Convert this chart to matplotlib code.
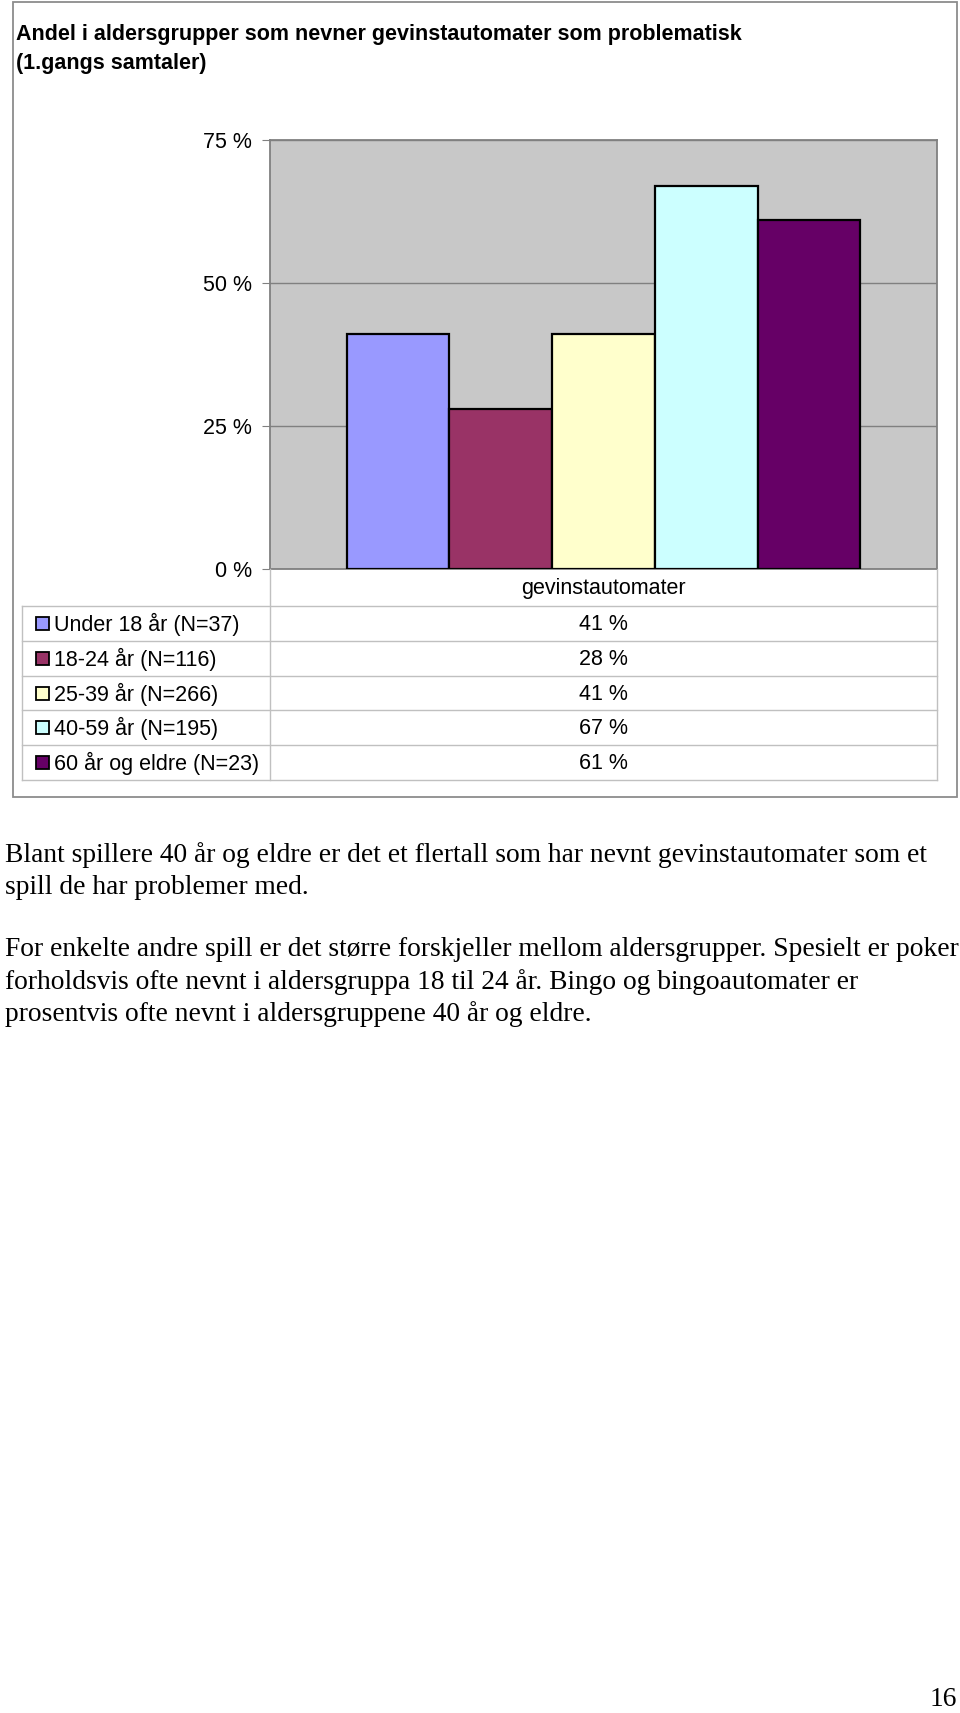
import matplotlib
matplotlib.use('Agg')
import matplotlib.pyplot as plt
from matplotlib.patches import Rectangle
from matplotlib.lines import Line2D

groups = ['Under 18 år (N=37)', '18-24 år (N=116)', '25-39 år (N=266)',
          '40-59 år (N=195)', '60 år og eldre (N=23)']
values = [41, 28, 41, 67, 61]
colors = ['#9999ff', '#993366', '#ffffcc', '#ccffff', '#660066']
category = 'gevinstautomater'
yticks = [0, 25, 50, 75]

title = ('Andel i aldersgrupper som nevner gevinstautomater som problematisk\n'
         '(1.gangs samtaler)')
paragraphs = [
    ['Blant spillere 40 år og eldre er det et flertall som har nevnt gevinstautomater som et',
     'spill de har problemer med.'],
    ['For enkelte andre spill er det større forskjeller mellom aldersgrupper. Spesielt er poker',
     'forholdsvis ofte nevnt i aldersgruppa 18 til 24 år. Bingo og bingoautomater er',
     'prosentvis ofte nevnt i aldersgruppene 40 år og eldre.'],
]

W, H = 960, 1713
fig = plt.figure(figsize=(W / 100, H / 100), dpi=100)


def fx(px):
    return px / W


def fy(py):
    return 1 - py / H


# outer chart frame
fig.patches.append(Rectangle((fx(13), fy(797)), fx(944), (797 - 2) / H,
                             transform=fig.transFigure, fill=False,
                             edgecolor='#8c8c8c', lw=1.3))

fig.text(fx(16), fy(49), title, ha='left', va='center', fontsize=15.5,
         fontweight='bold', family='Liberation Sans', linespacing=1.52)

# plot area
left, right, top, bottom = 270, 937, 140, 569
ax = fig.add_axes([fx(left), fy(bottom), fx(right - left), (bottom - top) / H])
ax.set_facecolor('#c8c8c8')
n = len(values)
w = 0.77 / n
xs = [0.5 + (i - (n - 1) / 2) * w for i in range(n)]
ax.bar(xs, values, width=w, color=colors, edgecolor='black', lw=1.6, zorder=3)
ax.set_xlim(0, 1)
ax.set_ylim(0, 75)
ax.set_yticks(yticks)
ax.set_yticklabels([f'{t} %' for t in yticks], family='Liberation Sans', fontsize=15.5)
ax.yaxis.grid(True, color='#808080', lw=1)
ax.set_axisbelow(True)
ax.tick_params(axis='y', length=6, color='#808080', pad=7)
ax.set_xticks([])
for s in ax.spines.values():
    s.set_color('#808080')
    s.set_linewidth(1.3)

# data table below the plot
row_h = 34.8
hdr_bot = 606
tbl_left = 22
gray = '#c0c0c0'
fs_tbl = 15.5


def hline(x0, x1, y, c=gray, lw=1):
    fig.lines.append(Line2D([fx(x0), fx(x1)], [fy(y), fy(y)],
                            transform=fig.transFigure, color=c, lw=lw))


def vline(x, y0, y1, c=gray, lw=1):
    fig.lines.append(Line2D([fx(x), fx(x)], [fy(y0), fy(y1)],
                            transform=fig.transFigure, color=c, lw=lw))


fig.text(fx((left + right) / 2), fy((bottom + hdr_bot) / 2 + 1), category,
         ha='center', va='center', fontsize=fs_tbl, family='Liberation Sans')
vline(left, bottom, hdr_bot + n * row_h)
vline(right, bottom, hdr_bot + n * row_h)
vline(tbl_left, hdr_bot, hdr_bot + n * row_h)
for i in range(n + 1):
    hline(tbl_left, right, hdr_bot + i * row_h)
for i, (g, v, c) in enumerate(zip(groups, values, colors)):
    yc = hdr_bot + (i + 0.5) * row_h
    fig.patches.append(Rectangle((fx(36), fy(yc + 6.5)), fx(13), 13 / H,
                                 transform=fig.transFigure, facecolor=c,
                                 edgecolor='black', lw=1.3))
    fig.text(fx(54), fy(yc + 1), g, ha='left', va='center', fontsize=fs_tbl,
             family='Liberation Sans')
    fig.text(fx((left + right) / 2), fy(yc + 1), f'{v} %', ha='center',
             va='center', fontsize=fs_tbl, family='Liberation Sans')

# body text
y = 855
for para in paragraphs:
    for line in para:
        fig.text(fx(5), fy(y), line, ha='left', va='center', fontsize=19.8,
                 family='Liberation Serif')
        y += 32.3
    y += 30

fig.text(fx(957), fy(1700), '16', ha='right', va='center', fontsize=19.8,
         family='Liberation Serif')

fig.savefig('out.png', dpi=100, facecolor='white')
